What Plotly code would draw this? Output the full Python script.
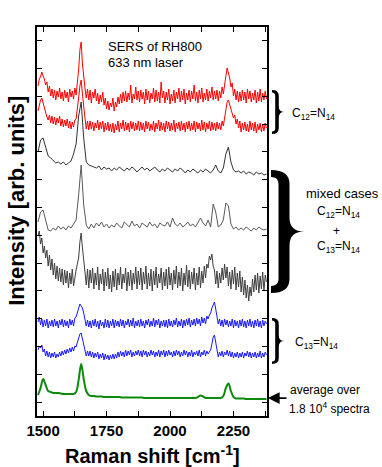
import plotly.graph_objects as go

# Raman shift grids, cm^-1
shift = list(range(1480, 2381, 10))       # smoother spectra + average
shift_fine = list(range(1480, 2381, 5))   # noisy single spectra

# stacked spectra, top to bottom (arb. units)
c12_a = [330, 337, 339, 344, 340, 337, 331, 334, 324, 330, 320, 327, 318, 326, 316, 325, 319, 328, 317, 324,
         315, 326, 318, 324, 314, 327, 319, 325, 317, 328, 321, 332, 346, 366, 374, 352, 336, 328, 318, 327,
         316, 326, 313, 324, 318, 327, 315, 323, 312, 321, 314, 324, 311, 318, 307, 315, 306, 313, 309, 318,
         305, 314, 309, 319, 312, 322, 313, 324, 315, 325, 314, 323, 316, 331, 313, 322, 317, 329, 316, 325,
         314, 326, 317, 324, 312, 327, 316, 325, 313, 323, 317, 328, 314, 326, 315, 324, 313, 334, 318, 325,
         313, 324, 316, 327, 312, 322, 315, 326, 313, 324, 317, 328, 314, 325, 316, 327, 312, 323, 316, 326,
         314, 325, 317, 331, 315, 324, 313, 326, 317, 328, 314, 323, 316, 327, 315, 325, 318, 329, 316, 325,
         317, 326, 315, 325, 318, 329, 322, 334, 340, 348, 344, 338, 329, 333, 320, 327, 316, 325, 314, 324,
         315, 326, 316, 324, 313, 327, 317, 325, 314, 323, 316, 326, 313, 324, 315, 327, 314, 323, 316, 325,
         317]
c12_b = [305, 312, 316, 318, 313, 306, 303, 299, 296, 301, 293, 300, 292, 299, 291, 298, 293, 300, 290, 297,
         289, 296, 290, 297, 288, 295, 287, 294, 289, 296, 297, 306, 318, 330, 336, 322, 306, 298, 287, 295,
         286, 295, 287, 294, 285, 293, 288, 296, 286, 294, 287, 295, 284, 293, 286, 294, 285, 292, 284, 293,
         283, 292, 286, 295, 284, 293, 287, 296, 285, 294, 286, 293, 284, 295, 287, 294, 285, 293, 286, 295,
         285, 294, 286, 293, 284, 295, 287, 294, 285, 292, 286, 295, 284, 293, 287, 296, 285, 294, 286, 293,
         284, 295, 287, 294, 285, 293, 286, 296, 284, 293, 287, 294, 285, 295, 286, 293, 284, 294, 287, 295,
         285, 293, 286, 295, 284, 294, 287, 293, 285, 296, 286, 294, 284, 293, 287, 295, 285, 294, 286, 293,
         285, 294, 287, 293, 286, 295, 290, 299, 305, 314, 316, 311, 306, 303, 298, 301, 292, 297, 288, 295,
         284, 293, 286, 294, 285, 292, 284, 295, 286, 293, 285, 294, 283, 292, 286, 293, 284, 292, 285, 293,
         288]
mix_a = [264, 276, 278, 268, 260, 258, 255, 253, 254, 252,
         254, 251, 253, 255, 262, 272, 300, 314, 278, 254,
         251, 250, 249, 248, 250, 246, 249, 247, 248, 245,
         248, 246, 249, 247, 245, 248, 246, 249, 247, 244,
         247, 249, 246, 248, 245, 247, 249, 246, 244, 247,
         245, 248, 246, 244, 247, 245, 248, 246, 243, 246,
         244, 247, 245, 243, 246, 244, 247, 245, 243, 246,
         251, 245, 243, 248, 262, 269, 254, 246, 244, 245,
         243, 245, 242, 244, 243, 241, 244, 242, 243, 241,
         242]
mix_b = [194, 204, 206, 196, 186, 185, 188, 186, 190, 187,
         189, 186, 190, 188, 192, 196, 221, 251, 211, 191,
         187, 192, 188, 193, 190, 194, 189, 192, 188, 191,
         189, 193, 190, 188, 194, 191, 189, 195, 190, 192,
         188, 193, 191, 189, 194, 190, 192, 188, 193, 191,
         190, 194, 189, 198, 192, 190, 193, 189, 191, 194,
         190, 192, 189, 193, 198, 193, 190, 196, 189, 212,
         204, 189, 191, 196, 213, 210, 192, 187, 189, 186,
         188, 186, 189, 187, 185, 188, 186, 189, 187, 186,
         187]
mix_c = [180, 185, 172, 178, 163, 170, 158, 166, 150, 161, 146, 157, 141, 153, 137, 150, 135, 148, 134, 147,
         131, 146, 133, 145, 128, 143, 132, 147, 130, 141, 146, 152, 158, 174, 183, 168, 152, 144, 131, 147,
         128, 146, 133, 148, 127, 143, 131, 149, 126, 142, 132, 147, 125, 144, 130, 148, 127, 141, 124, 145,
         129, 147, 126, 143, 131, 149, 127, 142, 133, 148, 125, 144, 130, 146, 126, 143, 132, 149, 127, 145,
         131, 148, 126, 144, 132, 150, 127, 143, 130, 147, 125, 145, 131, 149, 128, 142, 133, 148, 126, 144,
         130, 147, 127, 149, 131, 143, 126, 146, 132, 150, 128, 144, 130, 148, 125, 143, 131, 151, 129, 146,
         127, 144, 132, 148, 126, 143, 131, 149, 128, 145, 133, 150, 138, 152, 148, 160, 156, 162, 150, 146,
         132, 145, 128, 143, 133, 148, 136, 152, 138, 149, 130, 144, 127, 146, 132, 149, 126, 143, 129, 145,
         124, 139, 121, 136, 118, 131, 115, 129, 120, 137, 124, 141, 126, 143, 123, 140, 127, 144, 125, 141,
         134]
c13_a = [94, 99, 91, 97, 89, 96, 90, 97, 88, 95, 90, 96, 89, 97, 90, 95, 88, 96, 91, 97,
         89, 96, 90, 95, 88, 97, 91, 96, 90, 98, 99, 104, 107, 112, 110, 108, 103, 97, 90, 96,
         89, 95, 88, 96, 90, 97, 89, 95, 87, 96, 90, 94, 88, 97, 89, 96, 88, 95, 90, 97,
         88, 96, 90, 95, 89, 97, 90, 96, 88, 95, 91, 97, 89, 96, 90, 98, 88, 95, 90, 96,
         89, 97, 90, 95, 88, 96, 91, 97, 89, 95, 90, 98, 89, 96, 91, 97, 88, 95, 90, 96,
         89, 96, 88, 97, 90, 95, 89, 96, 91, 98, 89, 95, 90, 97, 88, 96, 90, 97, 91, 98,
         89, 96, 91, 97, 90, 98, 92, 97, 90, 99, 93, 98, 92, 100, 97, 101, 103, 108, 112, 114,
         107, 101, 92, 97, 90, 96, 89, 97, 91, 96, 89, 95, 90, 97, 88, 96, 90, 95, 88, 96,
         90, 97, 89, 95, 88, 96, 90, 97, 89, 95, 88, 96, 90, 97, 89, 95, 88, 96, 90, 95,
         92]
c13_b = [66, 70, 68, 71, 64, 67, 60, 65, 59, 64, 58, 63, 59, 64, 58, 62, 59, 64, 60, 65,
         61, 66, 62, 67, 63, 68, 64, 69, 65, 70, 69, 74, 77, 82, 83, 77, 70, 66, 60, 65,
         60, 65, 59, 64, 58, 63, 59, 64, 57, 62, 58, 63, 56, 62, 57, 61, 56, 61, 57, 62,
         57, 62, 58, 64, 59, 65, 60, 64, 59, 66, 60, 65, 61, 66, 59, 64, 60, 65, 61, 66,
         60, 65, 59, 66, 61, 65, 59, 64, 60, 66, 61, 65, 59, 64, 60, 66, 59, 65, 61, 66,
         59, 65, 60, 66, 61, 64, 59, 65, 60, 66, 61, 65, 59, 64, 60, 66, 61, 65, 59, 64,
         60, 66, 59, 64, 61, 65, 60, 66, 59, 64, 61, 66, 60, 65, 62, 64, 66, 72, 79, 81,
         73, 66, 59, 64, 60, 65, 59, 64, 61, 66, 60, 65, 59, 64, 58, 63, 59, 64, 58, 63,
         59, 64, 58, 63, 60, 65, 59, 64, 58, 63, 59, 64, 58, 63, 59, 65, 58, 63, 59, 64,
         61]
average = [21, 28, 37, 31, 25, 24, 23, 23, 23, 22.5,
           22, 22, 22, 22, 22, 24, 36, 52, 37, 25,
           21, 20, 20, 19.5, 19.5, 19.5, 19, 19, 19, 19,
           19, 19, 19, 18.5, 18.5, 18.5, 18.5, 18.5, 18.5, 18.5,
           18.5, 18.5, 18, 18, 18, 18, 18, 18, 18, 18,
           18, 18, 18, 18, 18, 18, 18, 18, 18, 18,
           18, 18, 18, 19, 20.5, 19.5, 18, 18, 18, 18,
           18, 18, 18, 20, 28, 32.5, 25, 19, 17.5, 17.5,
           17.5, 17.5, 17, 17, 17, 17, 17, 17, 17, 17,
           17]

xticks = [1500, 1625, 1750, 1875, 2000, 2125, 2250, 2375]
xlabels = ["1500", "", "1750", "", "2000", "", "2250", ""]

FONT = "Liberation Sans, Arial, sans-serif"

# plot area in pixels: left 37, right 267, top 27, bottom 416
def px(x, y):
    return f"{(x - 37) / 230:.4f},{(416 - y) / 389:.4f}"

def brace_path(top, bot, left, stem, tip, h, r, e):
    m = (top + bot) / 2
    o, i = stem + h, stem - h
    return (f"M{px(left, top)} Q{px(o, top)} {px(o, top + r)} L{px(o, m - r)} "
            f"Q{px(o, m)} {px(tip, m)} Q{px(o, m)} {px(o, m + r)} L{px(o, bot - r)} "
            f"Q{px(o, bot)} {px(left, bot)} L{px(left, bot - e)} "
            f"Q{px(i, bot - e)} {px(i, bot - r)} L{px(i, top + r)} "
            f"Q{px(i, top + e)} {px(left, top + e)} Z")

fig = go.Figure()

traces = [
    (shift_fine, c12_a, "#ff0000", 1, "linear"),
    (shift_fine, c12_b, "#ff0000", 1, "linear"),
    (shift, mix_a, "#333333", 1, "linear"),
    (shift, mix_b, "#5a5a5a", 1, "linear"),
    (shift_fine, mix_c, "#404040", 1, "linear"),
    (shift_fine, c13_a, "#1a1aff", 1, "linear"),
    (shift_fine, c13_b, "#1a1aff", 1, "linear"),
    (shift, average, "#0c8a0c", 2, "spline"),
]
for xs, vals, col, w, shape in traces:
    fig.add_trace(go.Scatter(x=xs, y=vals, mode="lines",
                             line=dict(color=col, width=w, shape=shape)))

fig.update_xaxes(range=[1476, 2382], tickvals=xticks, ticktext=xlabels,
                 ticks="inside", ticklen=5, tickwidth=1.2, tickcolor="black",
                 showline=True, linecolor="black", linewidth=1.5, mirror="ticks",
                 showgrid=False, zeroline=False,
                 tickfont=dict(family=FONT, size=15, color="black", weight="bold"))
fig.update_yaxes(range=[0, 389], tick0=14, dtick=27.8, showticklabels=False,
                 ticks="inside", ticklen=5, tickwidth=1.2, tickcolor="black",
                 showline=True, linecolor="black", linewidth=1.5, mirror="ticks",
                 showgrid=False, zeroline=False)

fig.add_shape(type="path", xref="paper", yref="paper", line_width=0, fillcolor="black",
              path=brace_path(90, 134, 272, 277, 284, 1.8, 6, 2.5))
fig.add_shape(type="path", xref="paper", yref="paper", line_width=0, fillcolor="black",
              path=brace_path(170, 293, 271, 284, 304, 5.5, 14, 7))
fig.add_shape(type="path", xref="paper", yref="paper", line_width=0, fillcolor="black",
              path=brace_path(318, 364, 272, 277, 284, 1.8, 6, 2.5))

def note(text, x, y, size=13, xanchor="left"):
    fig.add_annotation(text=text, xref="paper", yref="paper", x=x, y=y,
                       xanchor=xanchor, yanchor="middle", showarrow=False,
                       font=dict(family=FONT, size=size, color="black"))

note("SERS of RH800", 0.300, 0.951)
note("633 nm laser", 0.300, 0.910)
note("C<sub>12</sub>=N<sub>14</sub>", 1.100, 0.776, 12)
note("mixed cases", 1.330, 0.573, 13, "center")
note("C<sub>12</sub>=N<sub>14</sub>", 1.309, 0.524, 12, "center")
note("+", 1.300, 0.476, 12, "center")
note("C<sub>13</sub>=N<sub>14</sub>", 1.309, 0.434, 12, "center")
note("C<sub>13</sub>=N<sub>14</sub>", 1.112, 0.188, 12)
note("average over", 1.090, 0.067, 12)
note("1.8 10<sup>4</sup> spectra", 1.086, 0.021, 12)

fig.add_annotation(text="", xref="paper", yref="paper", x=1.004, y=0.046,
                   ax=20, ay=0, showarrow=True, arrowhead=2, arrowsize=1.3,
                   arrowwidth=1.8, arrowcolor="black")

fig.add_annotation(text="Raman shift [cm<sup>-1</sup>]", xref="paper", yref="paper",
                   x=0.502, y=-0.100, xanchor="center", yanchor="middle", showarrow=False,
                   font=dict(family=FONT, size=20, color="black", weight="bold"))
fig.add_annotation(text="Intensity [arb. units]", xref="paper", yref="paper",
                   x=-0.087, y=0.553, xanchor="center", yanchor="middle", showarrow=False,
                   textangle=-90,
                   font=dict(family=FONT, size=22, color="black", weight="bold"))

fig.update_layout(width=382, height=467, showlegend=False,
                  margin=dict(l=37, r=115, t=27, b=51),
                  plot_bgcolor="white", paper_bgcolor="white")

# drop the default 8 px page margin so the figure fills the window
fig.write_html("out.html", config={"displayModeBar": False},
               post_script="document.body.style.margin = '0';")
